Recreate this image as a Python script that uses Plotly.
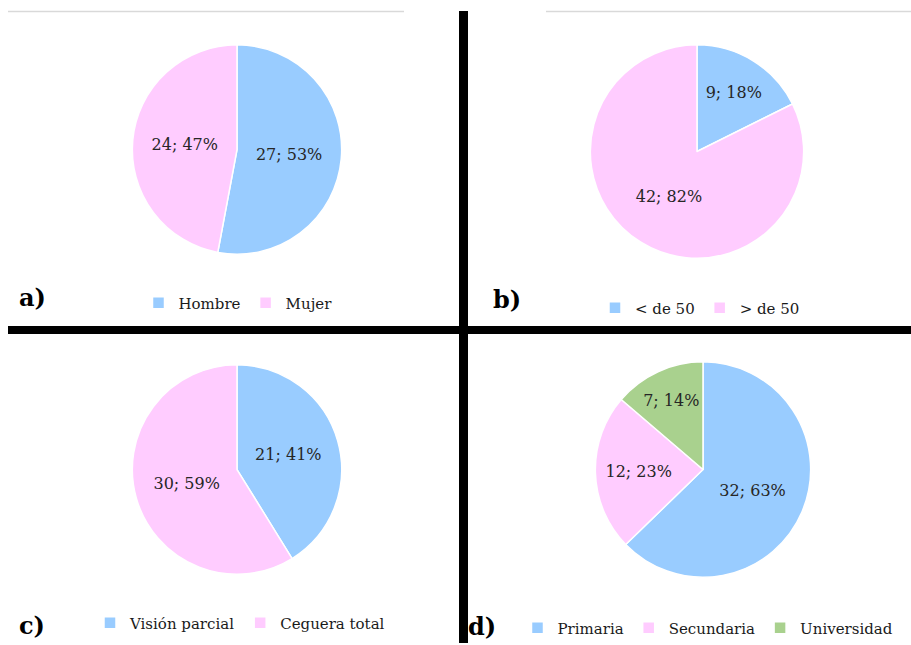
import plotly.graph_objects as go

# Panel data
sexo_labels = ["Hombre", "Mujer"]
sexo_values = [27, 24]
sexo_pct = [53, 47]

edad_labels = ["< de 50", "> de 50"]
edad_values = [9, 42]
edad_pct = [18, 82]

vision_labels = ["Visión parcial", "Ceguera total"]
vision_values = [21, 30]
vision_pct = [41, 59]

estudios_labels = ["Primaria", "Secundaria", "Universidad"]
estudios_values = [32, 12, 7]
estudios_pct = [63, 23, 14]

panel_letters = ["a)", "b)", "c)", "d)"]

BLUE = "#99CCFF"
PINK = "#FFCCFF"
GREEN = "#A9D18E"
FONT = "DejaVu Serif"

W, H = 911, 645


def px_x(x):
    return x / W


def px_y(y):
    return 1 - y / H


def pie(labels, values, pct, colors, cx, cy, r, legend):
    return go.Pie(
        labels=labels,
        values=values,
        customdata=pct,
        sort=False,
        direction="clockwise",
        rotation=0,
        marker=dict(colors=colors, line=dict(color="white", width=1.5)),
        texttemplate="%{value}; %{customdata}%",
        textposition="inside",
        insidetextorientation="horizontal",
        insidetextfont=dict(family=FONT, size=16, color="#262626"),
        hoverinfo="label+value+percent",
        domain=dict(x=[px_x(cx - r), px_x(cx + r)], y=[px_y(cy + r), px_y(cy - r)]),
        legend=legend,
        showlegend=True,
    )


fig = go.Figure()
fig.add_trace(pie(sexo_labels, sexo_values, sexo_pct, [BLUE, PINK], 237, 150, 105, "legend"))
fig.add_trace(pie(edad_labels, edad_values, edad_pct, [BLUE, PINK], 697, 152, 107, "legend2"))
fig.add_trace(pie(vision_labels, vision_values, vision_pct, [BLUE, PINK], 237, 471, 105, "legend3"))
fig.add_trace(pie(estudios_labels, estudios_values, estudios_pct, [BLUE, PINK, GREEN], 703, 471, 108, "legend4"))


def legend_at(cx, cy):
    return dict(
        orientation="h",
        x=px_x(cx), y=px_y(cy),
        xanchor="center", yanchor="middle",
        bgcolor="rgba(0,0,0,0)",
        font=dict(family=FONT, size=15, color="#1a1a1a"),
        itemwidth=30,
        traceorder="normal",
    )


fig.update_layout(
    width=W, height=H,
    margin=dict(l=0, r=0, t=0, b=0),
    paper_bgcolor="white",
    plot_bgcolor="white",
    font=dict(family=FONT, size=15),
    legend=legend_at(238, 304),
    legend2=legend_at(700, 309),
    legend3=legend_at(240, 625),
    legend4=legend_at(708, 630),
)

# Panel letters
for text, (x, y) in zip(panel_letters, [(32, 298), (507, 300), (32, 627), (482, 628)]):
    fig.add_annotation(
        x=px_x(x), y=px_y(y), xref="paper", yref="paper",
        text=f"<b>{text}</b>", showarrow=False,
        xanchor="center", yanchor="middle",
        font=dict(family=FONT, size=24, color="black"),
    )

# Thin grey rules along the top edge
fig.add_shape(type="line", xref="paper", yref="paper",
              x0=px_x(8), x1=px_x(404), y0=px_y(11.5), y1=px_y(11.5),
              line=dict(color="#d9d9d9", width=1.5))
fig.add_shape(type="line", xref="paper", yref="paper",
              x0=px_x(546), x1=px_x(911), y0=px_y(11.5), y1=px_y(11.5),
              line=dict(color="#d9d9d9", width=1.5))

# Black dividers between panels
fig.add_shape(type="line", xref="paper", yref="paper",
              x0=px_x(463.5), x1=px_x(463.5), y0=px_y(11), y1=0,
              line=dict(color="black", width=9))
fig.add_shape(type="line", xref="paper", yref="paper",
              x0=px_x(8), x1=1, y0=px_y(331), y1=px_y(331),
              line=dict(color="black", width=8))

fig.write_html("out.html")
